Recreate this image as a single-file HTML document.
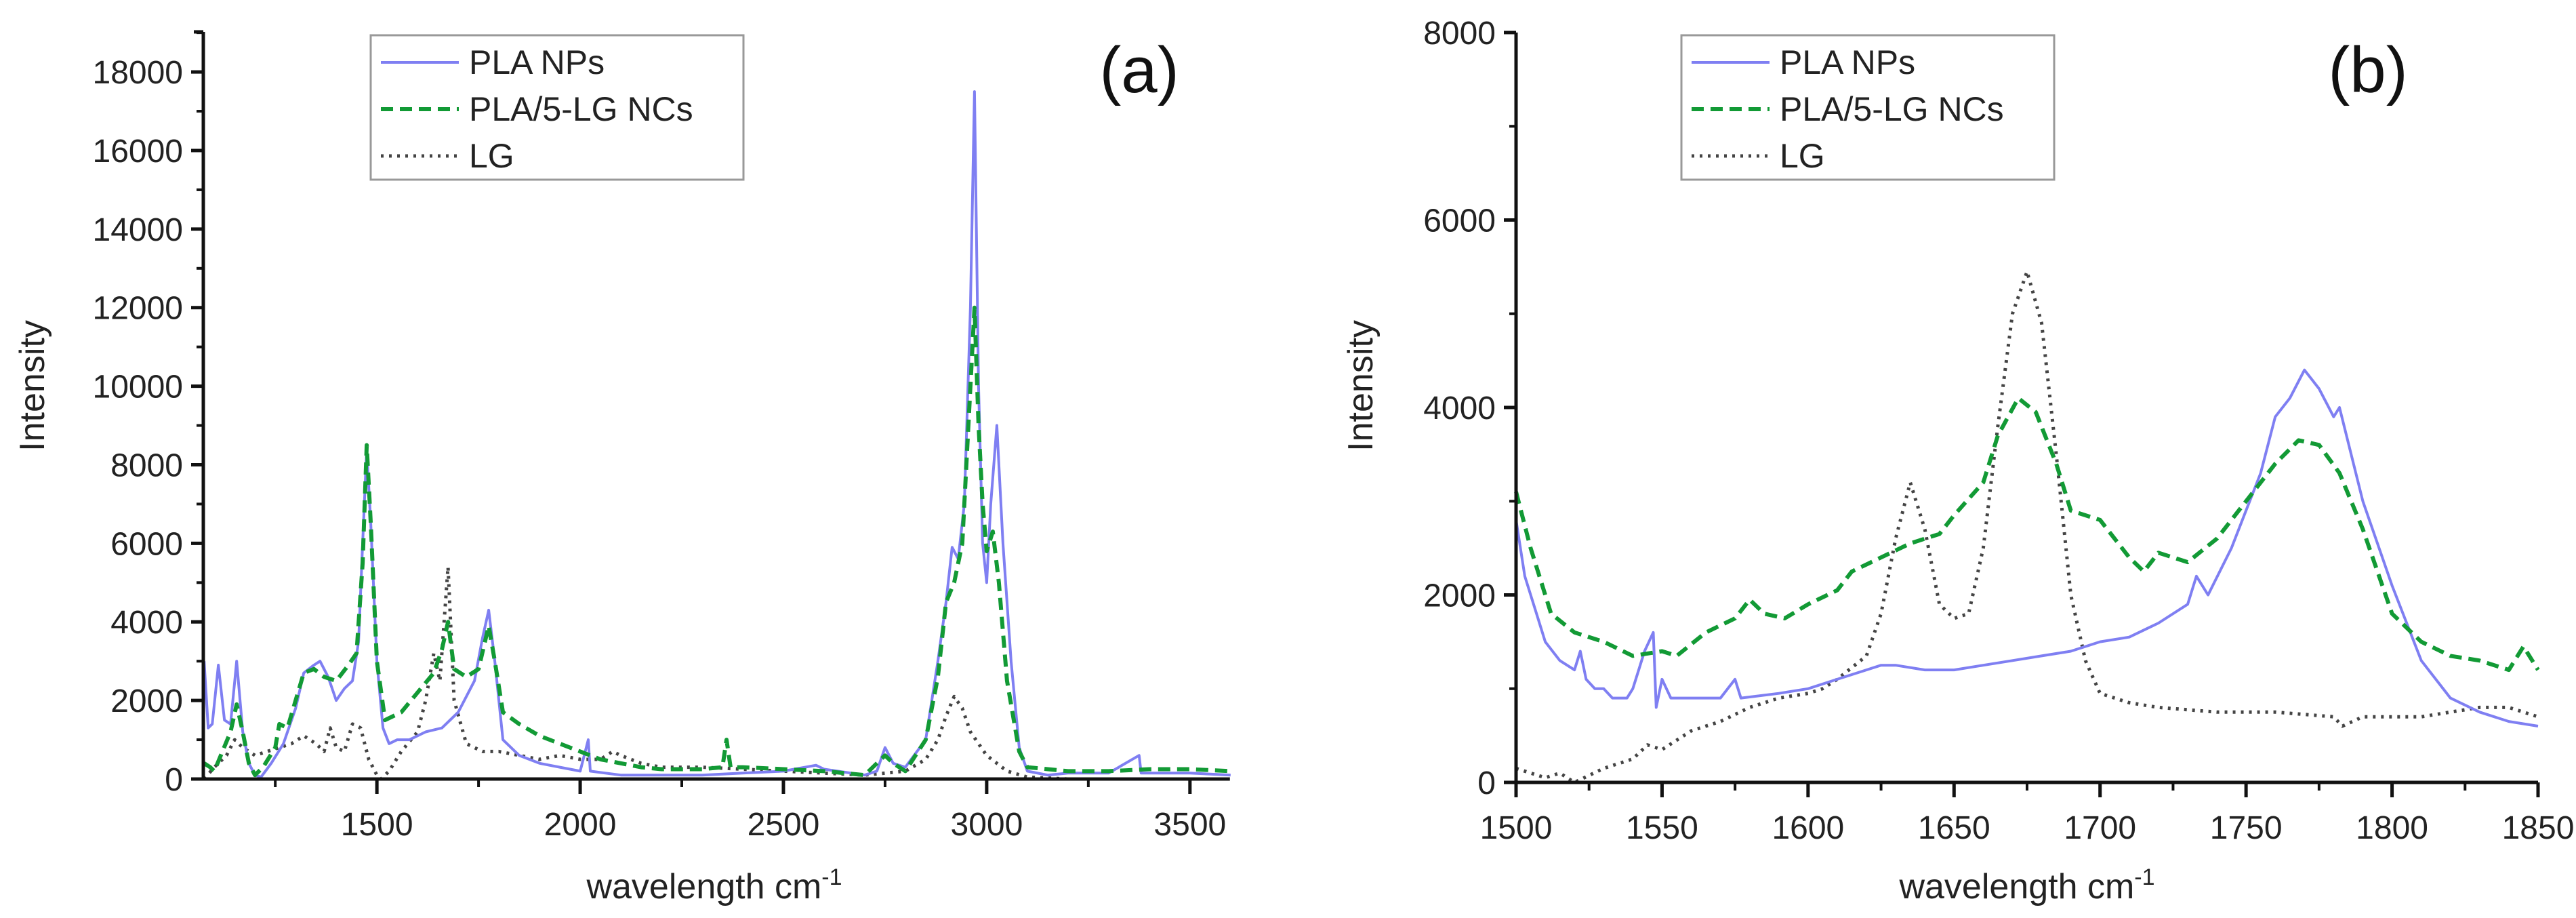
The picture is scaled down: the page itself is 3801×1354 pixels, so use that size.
<!DOCTYPE html>
<html><head><meta charset="utf-8"><style>
html,body{margin:0;padding:0;background:#fff;}
svg{display:block;font-family:"Liberation Sans",sans-serif;}
</style></head><body>
<svg id="fig" width="3801" height="1354" viewBox="0 0 3801 1354" xmlns="http://www.w3.org/2000/svg">
<rect width="3801" height="1354" fill="#fff"/>
</svg>
<script>
// ---------- Panel (a) data ----------
const aBlueX=[1075,1085,1095,1110,1125,1140,1155,1170,1185,1200,1215,1240,1270,1300,1320,1345,1360,1380,1400,1420,1440,1455,1465,1475,1485,1500,1515,1530,1550,1580,1620,1660,1700,1740,1760,1775,1790,1810,1850,1900,1950,2000,2020,2025,2100,2200,2300,2400,2500,2580,2600,2700,2730,2750,2770,2800,2850,2880,2900,2915,2930,2945,2960,2970,2980,2990,3000,3010,3025,3040,3060,3080,3100,3150,3200,3300,3375,3380,3400,3500,3600];
const aBlueY=[3000,1300,1400,2900,1500,1400,3000,1200,400,100,50,400,900,1800,2700,2900,3000,2600,2000,2300,2500,3500,6000,8400,6500,3000,1300,900,1000,1000,1200,1300,1700,2500,3600,4300,3000,1000,600,400,300,200,1000,200,100,100,100,150,200,350,250,100,200,800,400,300,1000,3000,4500,5900,5600,7000,12000,17500,10000,6000,5000,7000,9000,6000,3000,800,200,100,150,150,600,150,150,150,100];
const aGreenX=[1075,1090,1100,1120,1140,1155,1170,1185,1200,1220,1250,1260,1280,1300,1320,1345,1370,1400,1430,1450,1465,1475,1485,1500,1520,1560,1600,1640,1660,1675,1690,1720,1750,1775,1790,1810,1850,1900,1950,2000,2050,2100,2150,2200,2300,2350,2360,2370,2400,2500,2600,2700,2750,2770,2800,2850,2880,2900,2920,2940,2960,2970,2980,2990,3000,3015,3030,3050,3080,3100,3200,3300,3400,3500,3600];
const aGreenY=[400,300,200,700,1200,1900,1200,400,100,300,800,1400,1300,2000,2700,2800,2600,2500,2900,3200,5500,8500,6500,3000,1500,1700,2200,2700,3300,4000,2800,2600,2800,3900,3000,1700,1400,1100,900,700,500,400,300,250,250,300,1000,300,300,250,200,100,600,400,200,1000,2600,4500,5000,6000,10000,12000,9000,7000,5800,6300,5000,2500,700,300,200,200,250,250,200];
const aLgX=[1075,1100,1130,1150,1170,1200,1230,1260,1290,1320,1350,1370,1385,1400,1420,1440,1460,1480,1500,1510,1530,1560,1600,1620,1640,1655,1675,1690,1720,1760,1800,1850,1900,1950,2000,2050,2080,2100,2150,2200,2300,2400,2500,2600,2700,2800,2850,2880,2900,2920,2940,2960,3000,3050,3100,3200,3400,3600];
const aLgY=[0,300,600,1000,800,600,700,800,900,1100,900,700,1300,800,700,1400,1300,500,100,0,200,700,1200,2000,3200,2500,5400,2000,900,700,700,600,500,600,500,500,700,600,400,300,300,250,200,150,100,200,500,1000,1600,2100,1800,1200,600,200,50,0,0,0];
const aXTicks=[1500,2000,2500,3000,3500];
const aYTicks=[0,2000,4000,6000,8000,10000,12000,14000,16000,18000];
// ---------- Panel (b) data ----------
const bBlueX=[1500,1503,1507,1510,1515,1520,1522,1524,1527,1530,1533,1538,1540,1542,1544,1547,1548,1550,1553,1560,1570,1575,1577,1590,1600,1610,1620,1625,1630,1640,1650,1660,1670,1680,1690,1700,1710,1720,1730,1733,1737,1745,1750,1755,1760,1765,1770,1775,1780,1782,1790,1800,1810,1820,1830,1840,1850];
const bBlueY=[2800,2200,1800,1500,1300,1200,1400,1100,1000,1000,900,900,1000,1200,1400,1600,800,1100,900,900,900,1100,900,950,1000,1100,1200,1250,1250,1200,1200,1250,1300,1350,1400,1500,1550,1700,1900,2200,2000,2500,2900,3300,3900,4100,4400,4200,3900,4000,3000,2100,1300,900,750,650,600];
const bGreenX=[1500,1505,1512,1520,1530,1540,1550,1555,1565,1575,1580,1585,1592,1600,1610,1615,1625,1635,1640,1645,1650,1660,1665,1672,1678,1685,1690,1700,1710,1715,1720,1730,1740,1750,1760,1768,1775,1782,1790,1800,1810,1820,1830,1840,1845,1850];
const bGreenY=[3100,2500,1800,1600,1500,1350,1400,1350,1600,1750,1950,1800,1750,1900,2050,2250,2400,2550,2600,2650,2850,3200,3700,4100,3950,3400,2900,2800,2400,2250,2450,2350,2600,3000,3400,3650,3600,3300,2700,1800,1500,1350,1300,1200,1450,1200];
const bLgX=[1500,1505,1510,1515,1520,1530,1540,1545,1550,1560,1570,1580,1590,1600,1605,1610,1620,1625,1630,1635,1640,1645,1650,1655,1660,1665,1670,1675,1680,1685,1690,1695,1700,1710,1720,1740,1760,1780,1783,1790,1800,1810,1820,1830,1840,1850];
const bLgY=[150,100,50,100,0,150,250,400,350,550,650,800,900,950,1000,1100,1350,1800,2600,3200,2700,1900,1750,1800,2500,3800,5000,5450,4900,3500,2000,1300,950,850,800,750,750,700,600,700,700,700,750,800,800,700];
const bXTicks=[1500,1550,1600,1650,1700,1750,1800,1850];
const bYTicks=[0,2000,4000,6000,8000];

const NS="http://www.w3.org/2000/svg";
const svg=document.getElementById('fig');
function mk(tag,attrs,parent){const e=document.createElementNS(NS,tag);for(const k in attrs)e.setAttribute(k,attrs[k]);(parent||svg).appendChild(e);return e;}

function panel(cfg){
  const g=mk('g',{});
  
  
  const sx=v=>cfg.x0+(v-cfg.xmin)/(cfg.xmax-cfg.xmin)*(cfg.x1-cfg.x0);
  const sy=v=>cfg.yb-(v-cfg.ymin)/(cfg.ymax-cfg.ymin)*(cfg.yb-cfg.yt);
  // series
  const series=[
    {xs:cfg.lgX,ys:cfg.lgY,st:{stroke:'#444','stroke-width':5,'stroke-dasharray':'4 8'},n:'lg-line'},
    {xs:cfg.blueX,ys:cfg.blueY,st:{stroke:'#7f7ff2','stroke-width':4},n:'pla-nps-line'},
    {xs:cfg.greenX,ys:cfg.greenY,st:{stroke:'#129a35','stroke-width':6,'stroke-dasharray':'18 10'},n:'pla-5lg-ncs-line'}
  ];
  for(const s of series){
    let d='';
    for(let i=0;i<s.xs.length;i++){d+=(i?'L':'M')+sx(s.xs[i]).toFixed(1)+','+sy(s.ys[i]).toFixed(1);}
    const p=mk('path',Object.assign({d:d,fill:'none','stroke-linejoin':'round'},s.st),g);
    
    
  }
  // axes
  const ax=mk('path',{d:`M${cfg.x0},${cfg.yt}L${cfg.x0},${cfg.yb}L${cfg.x1},${cfg.yb}`,fill:'none',stroke:'#111','stroke-width':5},g);
  
  
  mk('path',{d:`M${cfg.x0},${cfg.yt}L${cfg.x0-14},${cfg.yt}`,stroke:'#111','stroke-width':5},g);
  for(const t of cfg.yTicks){
    const y=sy(t);
    mk('path',{d:`M${cfg.x0-18},${y}L${cfg.x0},${y}`,stroke:'#111','stroke-width':5},g);
    const tx=mk('text',{x:cfg.x0-30,y:y+17,'text-anchor':'end','font-size':48,fill:'#222'},g);
    tx.textContent=t;
    
    
  }
  for(let t=cfg.ymin+cfg.yMinor;t<cfg.ymax;t+=cfg.yMinor){
    mk('path',{d:`M${cfg.x0-10},${sy(t)}L${cfg.x0},${sy(t)}`,stroke:'#111','stroke-width':4},g);
  }
  for(const t of cfg.xTicks){
    const x=sx(t);
    mk('path',{d:`M${x},${cfg.yb}L${x},${cfg.yb+22}`,stroke:'#111','stroke-width':5},g);
    const tx=mk('text',{x:x,y:cfg.yb+83,'text-anchor':'middle','font-size':48,fill:'#222'},g);
    tx.textContent=t;
    
    
  }
  for(let t=cfg.xTicks[0]-cfg.xMinor;t>cfg.xmin;t-=cfg.xMinor){
    mk('path',{d:`M${sx(t)},${cfg.yb}L${sx(t)},${cfg.yb+12}`,stroke:'#111','stroke-width':4},g);
  }
  for(let t=cfg.xTicks[0]+cfg.xMinor;t<cfg.xmax;t+=cfg.xMinor){
    if(cfg.xTicks.indexOf(t)<0) mk('path',{d:`M${sx(t)},${cfg.yb}L${sx(t)},${cfg.yb+12}`,stroke:'#111','stroke-width':4},g);
  }
  const yl=mk('text',{x:cfg.ylx,y:569,'text-anchor':'middle','font-size':52,fill:'#222',transform:`rotate(-90 ${cfg.ylx} 569)`},g);
  yl.textContent='Intensity';
  
  
  const xl=mk('text',{x:cfg.xlx,y:1325,'text-anchor':'middle','font-size':52,fill:'#222'},g);
  xl.innerHTML='wavelength cm<tspan dy="-20" font-size="34">-1</tspan>';
  
  
  // legend
  const lg=mk('g',{},g);
  
  
  mk('rect',{x:cfg.lx,y:52,width:550,height:213,fill:'#fff',stroke:'#999','stroke-width':3},lg);
  const ents=[['PLA NPs',series[1].st],['PLA/5-LG NCs',series[2].st],['LG',series[0].st]];
  ents.forEach((e,i)=>{
    const yy=52+40+i*69;
    const eg=mk('g',{},lg);
    
    
    mk('path',Object.assign({d:`M${cfg.lx+15},${yy}L${cfg.lx+130},${yy}`,fill:'none'},e[1]),eg);
    const t=mk('text',{x:cfg.lx+145,y:yy+17,'font-size':50,fill:'#222'},eg);
    t.textContent=e[0];
  });
  const pl=mk('text',{x:cfg.plx,y:136,'text-anchor':'middle','font-size':96,fill:'#111'},g);
  pl.textContent=cfg.label;
  
  
}

panel({name:'panel-a',x0:300,x1:1814,yt:47,yb:1149,xmin:1073,xmax:3597,ymin:0,ymax:19020,
  xTicks:aXTicks,yTicks:aYTicks,xMinor:250,yMinor:1000,
  blueX:aBlueX,blueY:aBlueY,greenX:aGreenX,greenY:aGreenY,lgX:aLgX,lgY:aLgY,
  ylx:65,xlx:1054,lx:547,plx:1681,label:'(a)'});
panel({name:'panel-b',x0:2237,x1:3745,yt:48,yb:1154,xmin:1500,xmax:1850,ymin:0,ymax:8000,
  xTicks:bXTicks,yTicks:bYTicks,xMinor:25,yMinor:1000,
  blueX:bBlueX,blueY:bBlueY,greenX:bGreenX,greenY:bGreenY,lgX:bLgX,lgY:bLgY,
  ylx:2025,xlx:2991,lx:2481,plx:3494,label:'(b)'});
</script>
</body></html>
